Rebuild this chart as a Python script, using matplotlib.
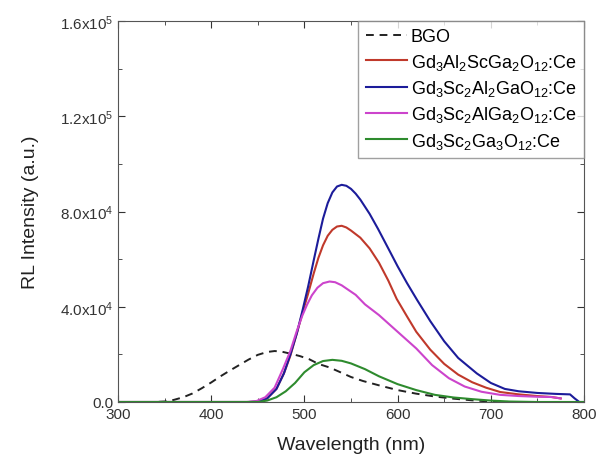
import numpy as np
import matplotlib
matplotlib.use("Agg")
import matplotlib.pyplot as plt
from matplotlib.ticker import MultipleLocator, FuncFormatter

plt.rcParams['font.family'] = ['Liberation Sans', 'DejaVu Sans']
plt.rcParams['mathtext.default'] = 'regular'

# values (wavelength nm, intensity a.u.)
bgo_wl = [300, 340, 350, 360, 370, 380, 390, 400, 410, 420, 430, 440, 450, 460, 468, 475, 485, 495, 505, 515, 527,
          538, 550, 563, 580, 600, 620, 640, 660, 680, 700, 720, 800]
bgo_int = [0, 0, 200, 900, 2000, 3600, 5800, 8200, 10800, 13200, 15500, 17800, 19800, 21000, 21400, 21200, 20300,
           19300, 18000, 16000, 14500, 12600, 10500, 8800, 7000, 5000, 3500, 2300, 1400, 700, 200, 0, 0]

red_wl = [300, 440, 450, 460, 470, 478, 485, 492, 498, 504, 510, 515, 520, 525, 530, 535, 540, 545, 550, 560, 570,
          580, 590, 599, 610, 620, 635, 650, 665, 680, 695, 710, 730, 750, 765, 775]
red_int = [0, 0, 200, 1500, 5500, 12000, 19500, 29000, 37500, 45500, 54000, 60500, 65800, 69800, 72300, 73700, 74000,
           73300, 72000, 69000, 64500, 58500, 51000, 43300, 36000, 29500, 22000, 16000, 11500, 8300, 6000, 4200, 3200,
           2500, 2100, 1500]

blue_wl = [300, 440, 450, 460, 470, 478, 485, 492, 498, 504, 510, 515, 520, 525, 530, 535, 540, 545, 550, 555, 560,
           565, 570, 579, 590, 600, 610, 621, 635, 650, 665, 685, 700, 715, 730, 750, 770, 785, 790, 795, 800]
blue_int = [0, 0, 200, 1500, 5500, 12000, 20000, 29000, 38500, 48500, 59500, 68500, 77000, 83500, 88000, 90500, 91200,
            90800, 89500, 87500, 85000, 82000, 79000, 72700, 64500, 57000, 50000, 42800, 34000, 25500, 18500, 12000,
            8000, 5500, 4500, 3800, 3400, 3200, 1500, 0, 0]

mag_wl = [300, 438, 448, 458, 468, 477, 485, 492, 498, 503, 508, 514, 520, 527, 533, 540, 555, 565, 580, 600, 620,
          637, 655, 672, 690, 710, 730, 750, 765, 775]
mag_int = [0, 0, 300, 2000, 6000, 13900, 21500, 30000, 36500, 41000, 44800, 48000, 49900, 50600, 50300, 49000, 45000,
           41000, 36500, 29500, 22500, 15500, 10000, 6500, 4300, 3000, 2500, 2200, 2100, 1500]

green_wl = [300, 450, 460, 470, 480, 490, 500, 510, 520, 530, 540, 550, 565, 580, 600, 620, 640, 660, 680, 700, 720,
            750, 800]
green_int = [0, 0, 600, 2000, 4500, 8000, 12500, 15500, 17200, 17700, 17300, 16200, 13800, 10800, 7500, 5000, 3000,
             1900, 1200, 600, 200, 0, 0]

labels = ["BGO",
          "Gd$_3$Al$_2$ScGa$_2$O$_{12}$:Ce",
          "Gd$_3$Sc$_2$Al$_2$GaO$_{12}$:Ce",
          "Gd$_3$Sc$_2$AlGa$_2$O$_{12}$:Ce",
          "Gd$_3$Sc$_2$Ga$_3$O$_{12}$:Ce"]

fig = plt.figure(figsize=(5.97, 4.56), dpi=100)
ax = fig.add_axes([118 / 597, 1 - 403 / 456, 466 / 597, 381 / 456])

ax.plot(bgo_wl, bgo_int, color="#222222", ls=(0, (4, 3)), lw=1.4, label=labels[0])
ax.plot(red_wl, red_int, color="#c0392b", lw=1.5, label=labels[1])
ax.plot(blue_wl, blue_int, color="#1c1c9a", lw=1.5, label=labels[2])
ax.plot(mag_wl, mag_int, color="#cc44cc", lw=1.5, label=labels[3])
ax.plot(green_wl, green_int, color="#2e8b2e", lw=1.5, label=labels[4])

ax.set_xlim(300, 800)
ax.set_ylim(0, 1.6e5)
ax.xaxis.set_major_locator(MultipleLocator(100))
ax.xaxis.set_minor_locator(MultipleLocator(50))
ax.yaxis.set_major_locator(MultipleLocator(4e4))
ax.yaxis.set_minor_locator(MultipleLocator(2e4))


def sci(v, pos):
    if v <= 0:
        return "0.0"
    e = int(np.floor(np.log10(v)))
    return "%.1fx10$^{%d}$" % (v / 10 ** e, e)


ax.yaxis.set_major_formatter(FuncFormatter(sci))
ax.tick_params(which="both", direction="in", top=True, right=True, labelsize=11, colors="#333333")
ax.tick_params(which="major", length=5)
ax.tick_params(which="minor", length=3)
for s in ax.spines.values():
    s.set_color("#555555")

ax.set_xlabel("Wavelength (nm)", fontsize=14, color="#222222", labelpad=11)
ax.set_ylabel("RL Intensity (a.u.)", fontsize=14, color="#222222", labelpad=15)

leg = ax.legend(loc="upper right", fontsize=13, frameon=True, fancybox=False,
                handlelength=2.3, handletextpad=0.2, borderaxespad=0,
                labelspacing=0.35, borderpad=0.4)
leg.get_frame().set_edgecolor("#888888")
leg.get_frame().set_linewidth(1.0)

fig.savefig("out.png", dpi=100)
